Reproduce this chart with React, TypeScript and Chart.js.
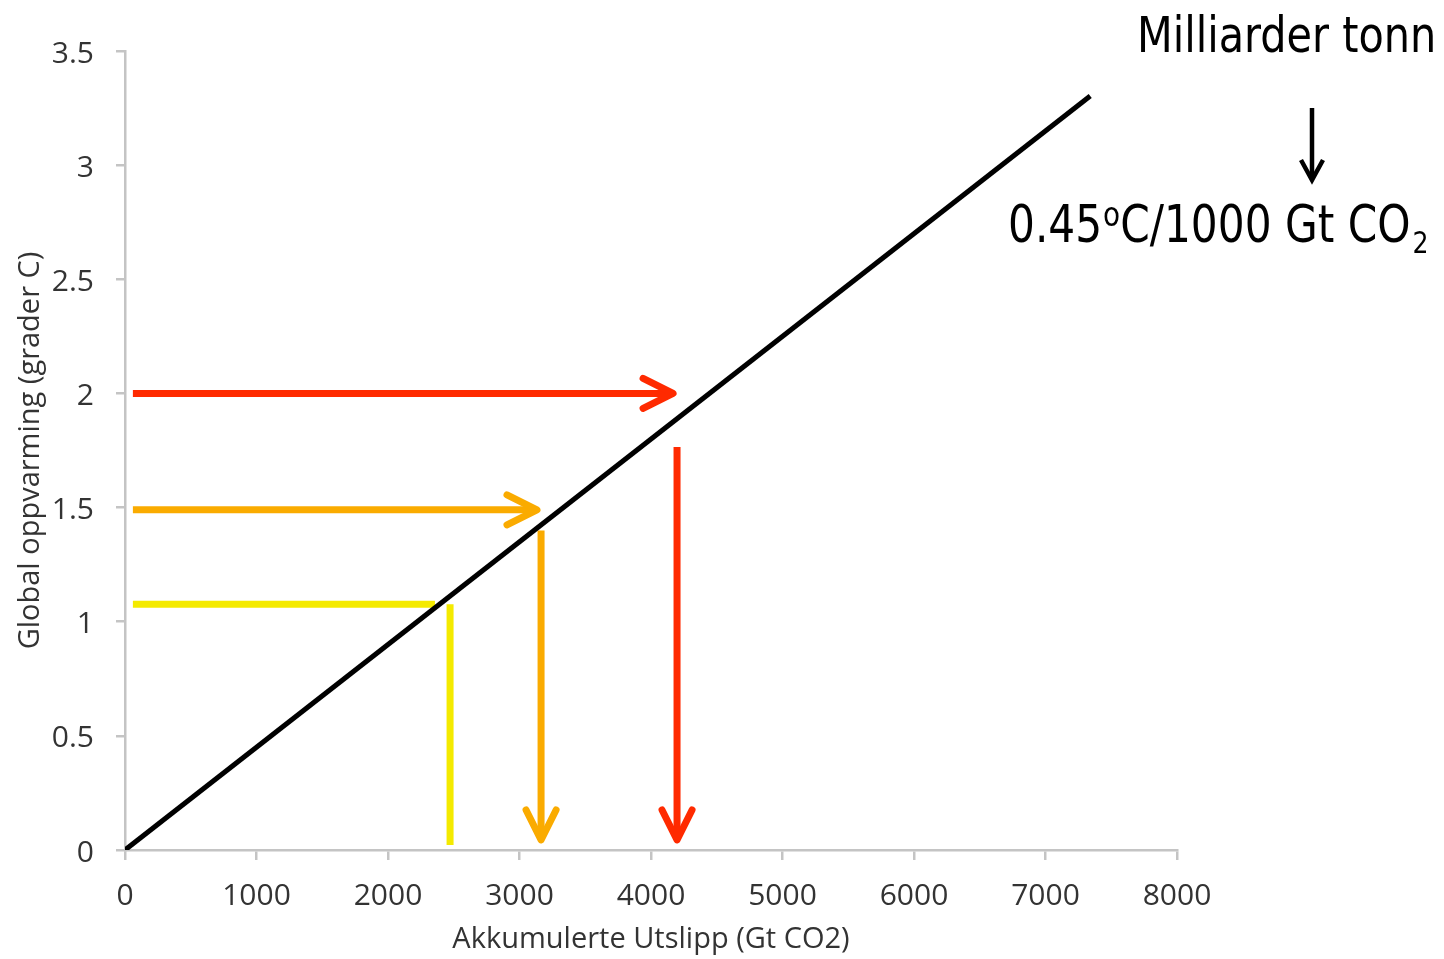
import { useEffect, useRef } from "react";
import { Chart, registerables } from "chart.js";

Chart.register(...registerables);

// ---- data ----
const xTickValues = [0, 1000, 2000, 3000, 4000, 5000, 6000, 7000, 8000];
const yTickValues = [0, 0.5, 1, 1.5, 2, 2.5, 3, 3.5];

const budgetX = [0, 7340];
const budgetY = [0, 3.303];

const redHorizX = [60, 4168];
const redHorizY = [2.0, 2.0];
const redVertX = [4198, 4198];
const redVertY = [1.765, 0.044];

const orangeHorizX = [60, 3133];
const orangeHorizY = [1.49, 1.49];
const orangeVertX = [3164, 3164];
const orangeVertY = [1.4, 0.044];

const yellowHorizX = [60, 2357];
const yellowHorizY = [1.077, 1.077];
const yellowVertX = [2472, 2472];
const yellowVertY = [1.077, 0.022];

const xTitle = "Akkumulerte Utslipp (Gt CO2)";
const yTitle = "Global oppvarming (grader C)";
const noteTop = "Milliarder tonn";
const noteRate = ["0.45", "o", "C/1000 Gt CO", "2"];

const RED = "#ff2a00";
const ORANGE = "#faab00";
const YELLOW = "#f4ea00";
const AXIS = "#c4c4c4";
const TEXT = "#333333";

const pts = (xs: number[], ys: number[]) => xs.map((x, i) => ({ x, y: ys[i] }));

const arrowPlugin = {
  id: "arrowHeads",
  afterDatasetsDraw(chart: any) {
    const ctx = chart.ctx;
    chart.data.datasets.forEach((ds: any, i: number) => {
      if (!ds.arrowHead) return;
      const meta = chart.getDatasetMeta(i);
      const d = meta.data;
      const a = d[d.length - 2];
      const b = d[d.length - 1];
      const dx = b.x - a.x;
      const dy = b.y - a.y;
      const len = Math.hypot(dx, dy);
      const ux = dx / len;
      const uy = dy / len;
      const px = -uy;
      const py = ux;
      const back = 30;
      const half = 15;
      ctx.save();
      ctx.strokeStyle = ds.borderColor;
      ctx.lineWidth = ds.borderWidth;
      ctx.lineCap = "round";
      ctx.lineJoin = "round";
      ctx.beginPath();
      ctx.moveTo(b.x - ux * back + px * half, b.y - uy * back + py * half);
      ctx.lineTo(b.x, b.y);
      ctx.lineTo(b.x - ux * back - px * half, b.y - uy * back - py * half);
      ctx.stroke();
      ctx.restore();
    });
  },
};

const notePlugin = {
  id: "notes",
  afterDraw(chart: any) {
    const ctx = chart.ctx;
    const family = '"DejaVu Sans Condensed", "DejaVu Sans", sans-serif';
    const sy = 1.1;
    ctx.save();
    ctx.fillStyle = "#000";
    ctx.textBaseline = "alphabetic";
    ctx.textAlign = "left";

    // line 1
    ctx.save();
    ctx.translate(1137, 52);
    ctx.scale(1, sy);
    ctx.font = `46px ${family}`;
    ctx.fillText(noteTop, 0, 0);
    ctx.restore();

    // line 2 with superscript and subscript
    ctx.save();
    ctx.translate(1008, 242);
    ctx.scale(1, sy);
    let x = 0;
    ctx.font = `47px ${family}`;
    ctx.fillText(noteRate[0], 0, 0);
    x += ctx.measureText(noteRate[0]).width + 1;
    ctx.font = `31px ${family}`;
    ctx.fillText(noteRate[1], x, -15);
    x += ctx.measureText(noteRate[1]).width;
    ctx.font = `47px ${family}`;
    ctx.fillText(noteRate[2], x, 0);
    x += ctx.measureText(noteRate[2]).width + 2;
    ctx.font = `28px ${family}`;
    ctx.fillText(noteRate[3], x, 10);
    ctx.restore();

    // downward arrow
    ctx.strokeStyle = "#000";
    ctx.lineWidth = 4.5;
    ctx.lineCap = "butt";
    ctx.beginPath();
    ctx.moveTo(1312, 108);
    ctx.lineTo(1312, 178);
    ctx.stroke();
    ctx.lineJoin = "miter";
    ctx.beginPath();
    ctx.moveTo(1301, 160);
    ctx.lineTo(1312, 180);
    ctx.lineTo(1323, 160);
    ctx.stroke();
    ctx.restore();
  },
};

export default function App() {
  const ref = useRef<HTMLCanvasElement>(null);

  useEffect(() => {
    const lineDs = (label: string, data: any[], color: string, width: number, arrowHead: boolean) => ({
      label,
      data,
      borderColor: color,
      backgroundColor: color,
      borderWidth: width,
      pointRadius: 0,
      pointHoverRadius: 0,
      showLine: true,
      fill: false,
      tension: 0,
      arrowHead,
    });

    const tickFont = { family: '"Open Sans", sans-serif', size: 30 };
    const titleFont = { family: '"Open Sans", sans-serif', size: 29 };

    const chart = new Chart(ref.current as HTMLCanvasElement, {
      type: "line",
      data: {
        datasets: [
          lineDs("Budsjett", pts(budgetX, budgetY), "#000000", 5, false),
          lineDs("2 grader", pts(redHorizX, redHorizY), RED, 7, true),
          lineDs("2 grader utslipp", pts(redVertX, redVertY), RED, 7, true),
          lineDs("1.5 grader", pts(orangeHorizX, orangeHorizY), ORANGE, 7, true),
          lineDs("1.5 grader utslipp", pts(orangeVertX, orangeVertY), ORANGE, 7, true),
          lineDs("I dag", pts(yellowHorizX, yellowHorizY), YELLOW, 7, false),
          lineDs("I dag utslipp", pts(yellowVertX, yellowVertY), YELLOW, 7, false),
        ] as any,
      },
      options: {
        animation: false,
        responsive: true,
        maintainAspectRatio: false,
        layout: { padding: { top: 51, right: 267, left: 0, bottom: 0 } },
        plugins: {
          legend: { display: false },
          tooltip: { enabled: false },
        },
        scales: {
          x: {
            type: "linear",
            min: 0,
            max: 8000,
            afterBuildTicks: (s: any) => {
              s.ticks = xTickValues.map((v) => ({ value: v }));
            },
            afterFit: (s: any) => {
              s.height = 109;
            },
            grid: {
              drawOnChartArea: false,
              drawTicks: true,
              tickLength: 10,
              color: AXIS,
              lineWidth: 2.5,
            },
            border: { display: true, color: AXIS, width: 2.5 },
            ticks: {
              color: TEXT,
              font: tickFont,
              padding: 18,
              maxRotation: 0,
              autoSkip: false,
              callback: (v: any) => String(v),
            },
            title: {
              display: true,
              text: xTitle,
              color: TEXT,
              font: titleFont,
              padding: { top: 0, bottom: 2 },
            },
          },
          y: {
            type: "linear",
            min: 0,
            max: 3.5,
            afterBuildTicks: (s: any) => {
              s.ticks = yTickValues.map((v) => ({ value: v }));
            },
            afterFit: (s: any) => {
              s.width = 125;
            },
            grid: {
              drawOnChartArea: false,
              drawTicks: true,
              tickLength: 9,
              color: AXIS,
              lineWidth: 2.5,
            },
            border: { display: true, color: AXIS, width: 2.5 },
            ticks: {
              color: TEXT,
              font: tickFont,
              padding: 22,
              labelOffset: 3,
              autoSkip: false,
              callback: (v: any) => String(v),
            },
            title: {
              display: true,
              text: yTitle,
              color: TEXT,
              font: titleFont,
              padding: { top: 13, bottom: 0 },
            },
          },
        },
      },
      plugins: [arrowPlugin, notePlugin],
    });
    return () => chart.destroy();
  }, []);

  return (
    <div style={{ position: "absolute", left: 0, top: 0, width: 1444, height: 959 }}>
      <canvas ref={ref} />
    </div>
  );
}
